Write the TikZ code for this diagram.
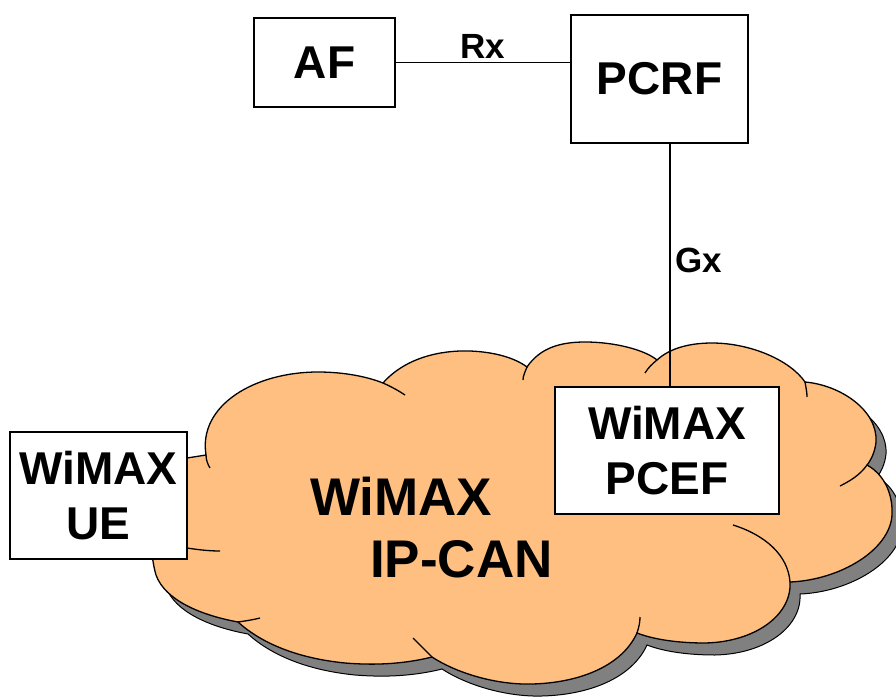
\documentclass[tikz,border=0pt]{standalone}
\usepackage{fontspec}
\setmainfont{Liberation Sans}
\definecolor{cloudfill}{RGB}{255,191,128}
\definecolor{cloudshade}{RGB}{128,128,128}
\newcommand{\ipcanpath}{(206,455) .. controls (198,405) and (255,372) .. (318,372)
 .. controls (345,372) and (368,377) .. (383,383)
 .. controls (405,358) and (440,350) .. (470,351)
 .. controls (495,352) and (515,358) .. (527,367)
 .. controls (540,348) and (560,342) .. (585,342)
 .. controls (615,342) and (645,350) .. (657,360)
 .. controls (670,348) and (690,343) .. (712,343)
 .. controls (750,343) and (790,360) .. (805,382)
 .. controls (840,385) and (878,410) .. (876,442)
 .. controls (875,452) and (871,460) .. (867,465)
 .. controls (885,475) and (893,495) .. (892,515)
 .. controls (890,550) and (840,580) .. (790,582)
 .. controls (792,615) and (755,642) .. (705,643)
 .. controls (680,643) and (655,640) .. (637,633)
 .. controls (620,670) and (570,685) .. (523,684)
 .. controls (490,683) and (455,672) .. (432,657)
 .. controls (400,665) and (370,665) .. (345,663)
 .. controls (295,658) and (260,642) .. (238,622)
 .. controls (200,615) and (165,600) .. (156,575)
 .. controls (150,555) and (140,480) .. (187,458) -- cycle}
\begin{document}
\begin{tikzpicture}[x=1pt, y=-1pt,
		entity/.style={draw, line width=1.8pt, fill=white, inner sep=0pt, align=center,
			font=\fontsize{46}{55}\selectfont\bfseries},
		iflabel/.style={font=\fontsize{35}{40}\selectfont\bfseries, inner sep=2pt},
		cloudtext/.style={font=\fontsize{53}{60}\selectfont\bfseries, anchor=base west, inner sep=0pt}]
		\useasboundingbox (0,0) rectangle (896,698);
		\begin{scope}[shift={(10,12)}]
			\filldraw[fill=cloudshade, draw=black, line width=1pt] \ipcanpath;
		\end{scope}
		\filldraw[fill=cloudfill, draw=black, line width=1.3pt] \ipcanpath;
		\draw[line width=1.3pt] (206,455) .. controls (206,460) and (208,465) .. (210,468);
		\draw[line width=1.3pt] (383,383) .. controls (392,387) and (399,391) .. (405,395);
		\draw[line width=1.3pt] (527,367) .. controls (525,372) and (523,376) .. (523,380);
		\draw[line width=1.3pt] (657,360) .. controls (652,364) and (648,368) .. (645,373);
		\draw[line width=1.3pt] (805,382) .. controls (806,388) and (807,392) .. (807,397);
		\draw[line width=1.3pt] (867,465) .. controls (860,475) and (850,481) .. (840,486);
		\draw[line width=1.3pt] (790,582) .. controls (788,555) and (765,535) .. (733,525);
		\draw[line width=1.3pt] (637,633) .. controls (639,627) and (640,622) .. (640,617);
		\draw[line width=1.3pt] (432,657) .. controls (425,650) and (419,644) .. (413,638);
		\draw[line width=1.3pt] (238,622) .. controls (245,621) and (252,620) .. (260,618);
		\draw[line width=1.3pt] (187,548) .. controls (200,550) and (210,551) .. (220,551);
		\node[cloudtext] (ipcanA) at (310,515) {WiMAX};
		\node[cloudtext] (ipcanB) at (370,577) {IP-CAN};

		\node[entity, minimum width=141, minimum height=89] (af) at (324.5,62.5) {AF};
		\node[entity, minimum width=177, minimum height=128] (pcrf) at (659.5,79) {PCRF};
		\node[entity, minimum width=224, minimum height=127] (pcef) at (667,450.5) {WiMAX\\PCEF};
		\node[entity, minimum width=177, minimum height=127] (ue) at (98.5,495.5) {WiMAX\\UE};

		\draw[line width=1.5pt] (af.east) -- (af.east -| pcrf.west)
			node[midway, above=1pt, iflabel] (rx) {Rx};
		\draw[line width=1.3pt] ([xshift=10.5pt]pcrf.south) -- ([xshift=3pt]pcef.north)
			node[pos=0.48, right=3pt, iflabel] (gx) {Gx};
	\end{tikzpicture}
\end{document}
